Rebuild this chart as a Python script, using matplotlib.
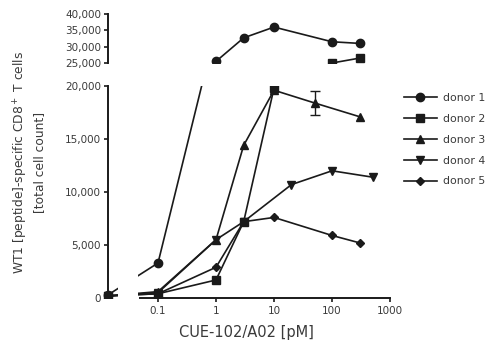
import numpy as np
import matplotlib
matplotlib.use("Agg")
import matplotlib.pyplot as plt
from matplotlib.lines import Line2D

# ---------------- data ----------------
donors = ["donor 1", "donor 2", "donor 3", "donor 4", "donor 5"]
markers = ["o", "s", "^", "v", "D"]

d1_x = [0, 0.1, 1, 3, 10, 100, 300]
d1_y = [300, 3300, 25500, 32700, 36000, 31500, 31000]

d2_x = [0, 0.1, 1, 3, 10, 100, 300]
d2_y = [200, 400, 1700, 7200, 19800, 25000, 26500]

d3_x = [0, 0.1, 1, 3, 10, 50, 300]
d3_y = [200, 600, 5500, 14400, 19600, 18400, 17100]
d3_err = [0, 0, 0, 0, 0, 1100, 0]

d4_x = [0, 0.1, 1, 3, 20, 100, 500]
d4_y = [200, 500, 5500, 7200, 10700, 12000, 11400]

d5_x = [0, 0.1, 1, 3, 10, 100, 300]
d5_y = [200, 400, 2900, 7200, 7600, 5900, 5200]

series_x = [d1_x, d2_x, d3_x, d4_x, d5_x]
series_y = [d1_y, d2_y, d3_y, d4_y, d5_y]
series_err = [None, None, d3_err, None, None]

x_ticks = [0.1, 1, 10, 100, 1000]
x_ticklabels = ["0.1", "1", "10", "100", "1000"]
y_lo_ticks = [0, 5000, 10000, 15000, 20000]
y_hi_ticks = [25000, 30000, 35000, 40000]

# ---------------- layout ----------------
W, H = 488, 350
fig = plt.figure(figsize=(W / 100, H / 100), dpi=100)

ZERO_POS = 10 ** -1.86        # where dose 0 is drawn on the log axis
XLIM = (0.01, 1082)
GAP = (0.0204, 0.0452)        # x-axis break between the 0 point and 0.1

def frac_axes(x0, y0, x1, y1):
    return fig.add_axes([x0 / W, 1 - y1 / H, (x1 - x0) / W, (y1 - y0) / H])

ax_lo = frac_axes(100, 86, 392, 298)
ax_hi = frac_axes(100, 14, 392, 63)

LINE_C = "#1a1a1a"
TEXT_C = "#3a3a3a"

def xpos(xs):
    return [ZERO_POS if v == 0 else v for v in xs]

for ax in (ax_lo, ax_hi):
    ax.set_xscale("log")
    ax.set_xlim(*XLIM)
    ax.axvspan(GAP[0], GAP[1], color="white", zorder=2.5, lw=0)
    for xs, ys, err, m in zip(series_x, series_y, series_err, markers):
        xp = xpos(xs)
        ax.plot(xp, ys, color=LINE_C, lw=1.2, zorder=2)
        ms = 4.5 if m == "D" else 6
        ax.plot(xp, ys, ls="none", marker=m, ms=ms, color=LINE_C, zorder=3)
        if err is not None:
            for xv, yv, ev in zip(xp, ys, err):
                if ev > 0:
                    ax.errorbar([xv], [yv], yerr=[ev], color=LINE_C, lw=1.0,
                                capsize=3.5, capthick=1.0, zorder=3, fmt="none")
    for s in ("top", "right"):
        ax.spines[s].set_visible(False)
    ax.spines["left"].set_position(("data", ZERO_POS))
    ax.spines["left"].set_linewidth(1.4)
    ax.spines["left"].set_color(LINE_C)
    ax.tick_params(axis="y", direction="out", length=3, width=1.2,
                   colors=LINE_C, labelcolor=TEXT_C, labelsize=7.5, pad=2)
    ax.minorticks_off()

ax_lo.set_ylim(0, 20000)
ax_lo.set_yticks(y_lo_ticks)
ax_lo.set_yticklabels([f"{v:,}" for v in y_lo_ticks])
ax_lo.spines["bottom"].set_bounds(0.049, 1000)
ax_lo.spines["bottom"].set_linewidth(1.4)
ax_lo.spines["bottom"].set_color(LINE_C)
ax_lo.set_xticks(x_ticks)
ax_lo.set_xticklabels(x_ticklabels)
ax_lo.tick_params(axis="x", direction="out", length=3, width=1.2,
                  colors=LINE_C, labelcolor=TEXT_C, labelsize=7.5, pad=3)
ax_lo.set_xlabel("CUE-102/A02 [pM]", fontsize=10.5, color=TEXT_C, labelpad=6)

ax_hi.set_ylim(25000, 40000)
ax_hi.set_yticks(y_hi_ticks)
ax_hi.set_yticklabels([f"{v:,}" for v in y_hi_ticks])
ax_hi.spines["bottom"].set_visible(False)
ax_hi.set_xticks([])
ax_hi.tick_params(axis="x", which="both", bottom=False, labelbottom=False)

fig.text(29 / W, 1 - 162 / H,
         "WT1 [peptide]-specific CD8$^+$ T cells\n[total cell count]",
         rotation=90, ha="center", va="center", fontsize=8.8, color=TEXT_C,
         linespacing=1.35)

handles = [Line2D([], [], color=LINE_C, lw=1.2, marker=m,
                  ms=(4.5 if m == "D" else 6)) for m in markers]
fig.legend(handles, donors, loc="upper left",
           bbox_to_anchor=(404 / W, 1 - 93 / H), frameon=False,
           fontsize=7.8, handlelength=3.0, handletextpad=0.6,
           labelspacing=1.0, borderpad=0, borderaxespad=0,
           labelcolor=TEXT_C)

fig.savefig("out.png", dpi=100, facecolor="white")
